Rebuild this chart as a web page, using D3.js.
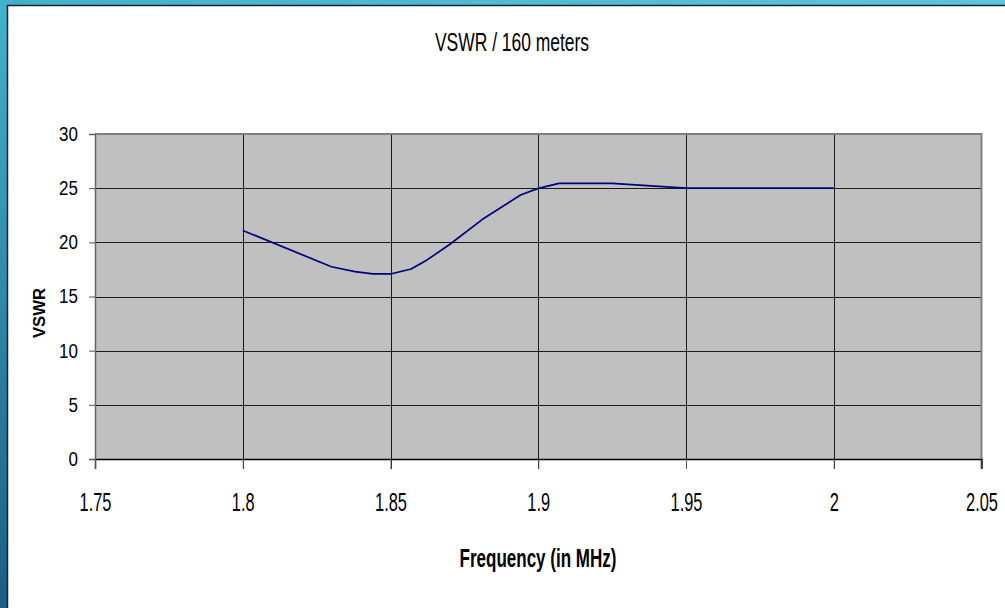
<!DOCTYPE html>
<html>
<head>
<meta charset="utf-8">
<script src="https://cdn.jsdelivr.net/npm/d3@7/dist/d3.min.js"></script>
<style>
  html, body { margin: 0; padding: 0; background: #fff; }
  svg { display: block; }
  text { font-family: "Liberation Sans", Arial, sans-serif; fill: #000; }
</style>
</head>
<body>
<svg id="chart" width="1005" height="608"></svg>
<script>
// VSWR sweep across the 160 m band
const frequency = [1.8, 1.83, 1.838, 1.844, 1.85, 1.857, 1.8625, 1.87, 1.881, 1.894, 1.9, 1.907, 1.925, 1.95, 2.0];
const vswr      = [21.1, 17.75, 17.3, 17.08, 17.08, 17.54, 18.4, 19.8, 22.1, 24.37, 24.98, 25.44, 25.44, 25.0, 25.0];

const xTicks = [1.75, 1.8, 1.85, 1.9, 1.95, 2.0, 2.05];
const yTicks = [0, 5, 10, 15, 20, 25, 30];

const chartTitle = "VSWR / 160 meters";
const xTitle = "Frequency (in MHz)";
const yTitle = "VSWR";

const W = 1005, H = 608;
const plot = { left: 95, right: 981.5, top: 134, bottom: 459 };

const svg = d3.select("#chart");

// frame: teal bars along the top and left edges
const defs = svg.append("defs");
const gl = defs.append("linearGradient").attr("id", "leftBar")
  .attr("x1", 0).attr("y1", 0).attr("x2", 0).attr("y2", 1);
gl.append("stop").attr("offset", "0%").attr("stop-color", "#43b2ca");
gl.append("stop").attr("offset", "100%").attr("stop-color", "#1b5d85");
const gt = defs.append("linearGradient").attr("id", "topBar")
  .attr("x1", 0).attr("y1", 0).attr("x2", 1).attr("y2", 0);
gt.append("stop").attr("offset", "0%").attr("stop-color", "#41b1c9");
gt.append("stop").attr("offset", "100%").attr("stop-color", "#60c4d9");

svg.append("rect").attr("x", 0).attr("y", 0).attr("width", W).attr("height", 6).attr("fill", "url(#topBar)");
svg.append("rect").attr("x", 0).attr("y", 0).attr("width", 7).attr("height", H).attr("fill", "url(#leftBar)");
svg.append("rect").attr("x", 0).attr("y", 0).attr("width", 7).attr("height", 6).attr("fill", "#41b1c9");
svg.append("path").attr("d", `M7.5,${H} V5.5 H${W}`)
  .attr("fill", "none").attr("stroke", "#102530").attr("stroke-width", 1.5);

const x = d3.scaleLinear().domain([1.75, 2.05]).range([plot.left, plot.right]);
const y = d3.scaleLinear().domain([0, 30]).range([plot.bottom, plot.top]);

// plot area background
svg.append("rect")
  .attr("x", plot.left).attr("y", plot.top)
  .attr("width", plot.right - plot.left).attr("height", plot.bottom - plot.top)
  .attr("fill", "#c0c0c0");

// gridlines
const grid = svg.append("g");
grid.selectAll("line.h").data(yTicks.filter(d => d > 0 && d < 30)).join("line")
  .attr("x1", plot.left).attr("x2", plot.right)
  .attr("y1", d => Math.round(y(d)) + 0.5).attr("y2", d => Math.round(y(d)) + 0.5)
  .attr("stroke", "#1a1a1a").attr("stroke-width", 1);
grid.selectAll("line.v").data(xTicks.filter(d => d > 1.76 && d < 2.04)).join("line")
  .attr("y1", plot.top).attr("y2", plot.bottom + 10)
  .attr("x1", d => Math.round(x(d)) + 0.5).attr("x2", d => Math.round(x(d)) + 0.5)
  .attr("stroke", "#1a1a1a").attr("stroke-width", 1);

// plot border (top and right)
svg.append("path")
  .attr("d", `M${plot.left},${plot.top} H${plot.right} V${plot.bottom + 10}`)
  .attr("fill", "none").attr("stroke", "#808080").attr("stroke-width", 2);

// squeeze text horizontally (narrow face)
function condense(sel, factor) {
  sel.each(function () {
    const len = this.getComputedTextLength();
    d3.select(this).attr("textLength", len * factor).attr("lengthAdjust", "spacingAndGlyphs");
  });
}

// axes
const xAxis = d3.axisBottom(x).tickValues(xTicks).tickSize(10).tickPadding(24)
  .tickFormat(d => String(+d.toFixed(2)));
const gx = svg.append("g").attr("transform", `translate(0,${plot.bottom})`).call(xAxis);
gx.select(".domain").attr("stroke", "#000").attr("stroke-width", 1.5);
gx.selectAll(".tick line").attr("stroke", "#555");
gx.selectAll(".tick text").attr("font-size", 26).attr("fill", "#000")
  .attr("font-family", "Liberation Sans, Arial, sans-serif");
condense(gx.selectAll(".tick text"), 0.63);

const yAxis = d3.axisLeft(y).tickValues(yTicks).tickSize(6).tickPadding(11);
const gy = svg.append("g").attr("transform", `translate(${plot.left},0)`).call(yAxis);
gy.select(".domain").attr("stroke", "#666").attr("stroke-width", 1.5);
gy.selectAll(".tick line").attr("stroke", "#555");
gy.selectAll(".tick text").attr("font-size", 20).attr("fill", "#000")
  .attr("font-family", "Liberation Sans, Arial, sans-serif");
condense(gy.selectAll(".tick text"), 0.85);

// data line
const line = d3.line().x((d, i) => x(frequency[i])).y(d => y(d));
svg.append("path").datum(vswr)
  .attr("d", line)
  .attr("fill", "none").attr("stroke", "#000080").attr("stroke-width", 1.7)
  .attr("stroke-linejoin", "round");

// titles
svg.append("text").attr("x", 512).attr("y", 51)
  .attr("text-anchor", "middle").attr("font-size", 25)
  .attr("textLength", 154).attr("lengthAdjust", "spacingAndGlyphs")
  .text(chartTitle);

svg.append("text").attr("x", 538).attr("y", 567)
  .attr("text-anchor", "middle").attr("font-size", 25).attr("font-weight", "bold")
  .attr("textLength", 157).attr("lengthAdjust", "spacingAndGlyphs")
  .text(xTitle);

svg.append("text").attr("transform", "translate(45,313) rotate(-90)")
  .attr("text-anchor", "middle").attr("font-size", 17).attr("font-weight", "bold")
  .attr("textLength", 50).attr("lengthAdjust", "spacingAndGlyphs")
  .text(yTitle);
</script>
</body>
</html>
